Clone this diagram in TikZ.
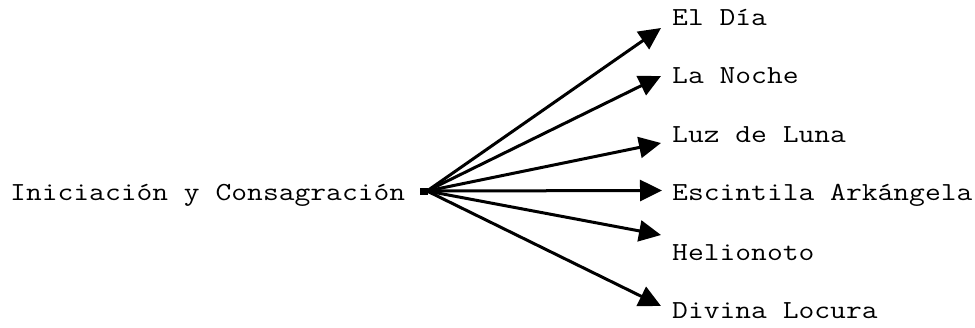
\documentclass[tikz,border=0pt]{standalone}
\usepackage{fontspec}
\usetikzlibrary{arrows.meta}
\newcommand{\lbltext}[1]{\scalebox{1.18}[1]{\fontsize{26}{30}\ttfamily #1}}
\begin{document}
\begin{tikzpicture}[x=1pt,y=-1pt,
  lbl/.style={inner sep=0pt,anchor=base west},
  conn/.style={line width=3pt,-{Triangle[length=22pt,width=21pt]}},
  srcbox/.style={fill=black,minimum width=8pt,minimum height=7pt,inner sep=0pt}]
\useasboundingbox (0,0) rectangle (975,327);
\node[lbl] (main) at (10,200) {\lbltext{Iniciación y Consagración}};
\node[srcbox] (src) at (424,191.5) {};
\coordinate (o) at (427,191);
\node[lbl] (t1) at (672,25) {\lbltext{El Día}};
\node[lbl] (t2) at (672,83) {\lbltext{La Noche}};
\node[lbl] (t3) at (672,142) {\lbltext{Luz de Luna}};
\node[lbl] (t4) at (672,200) {\lbltext{Escintila Arkángela}};
\node[lbl] (t5) at (672,260) {\lbltext{Helionoto}};
\node[lbl] (t6) at (672,318) {\lbltext{Divina Locura}};
\coordinate (p1) at (661,28);
\coordinate (p2) at (661,76);
\coordinate (p3) at (661,143);
\coordinate (p4) at (662,190.5);
\coordinate (p5) at (661,235);
\coordinate (p6) at (661,306);
\foreach \i in {1,...,6} \draw[conn] (o) -- (p\i);
\end{tikzpicture}
\end{document}
